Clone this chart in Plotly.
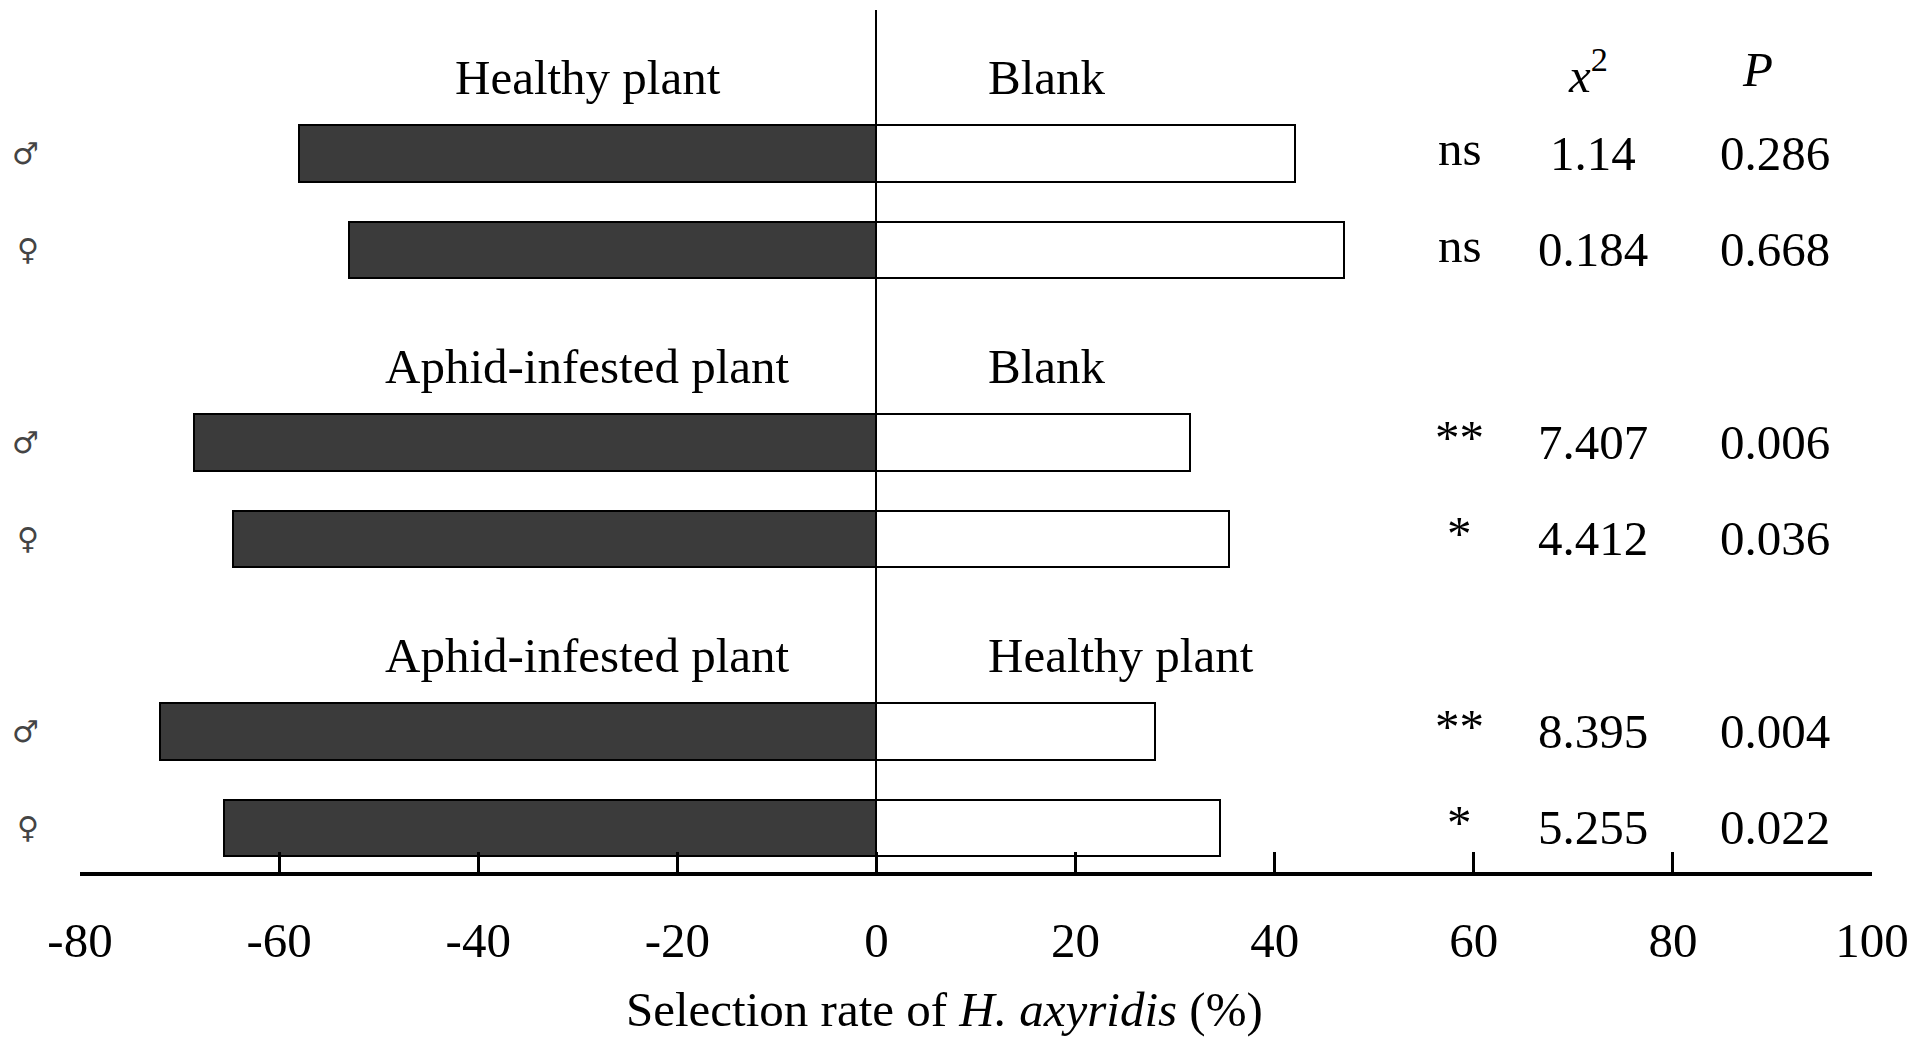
import plotly.graph_objects as go

# data
pairs = [("Healthy plant", "Blank"),
         ("Aphid-infested plant", "Blank"),
         ("Aphid-infested plant", "Healthy plant")]
sexes = ["♂", "♀", "♂", "♀", "♂", "♀"]
left_rate = [-58.0, -53.0, -68.5, -64.6, -72.0, -65.5]
right_rate = [42.0, 47.0, 31.5, 35.4, 28.0, 34.5]
signif = ["ns", "ns", "**", "*", "**", "*"]
chi2 = ["1.14", "0.184", "7.407", "4.412", "8.395", "5.255"]
p_vals = ["0.286", "0.668", "0.006", "0.036", "0.004", "0.022"]
xticks = [-80, -60, -40, -20, 0, 20, 40, 60, 80, 100]
xtick_text = ["-80", "-60", "-40", "-20", "0", "20", "40", "60", "80", "100"]

FONT = "Liberation Serif"
FS = 49

# row positions: two rows per pair, one empty slot between pairs for the header
ypos = [8 - 3 * (i // 2) - (i % 2) for i in range(len(sexes))]

fig = go.Figure()
fig.add_trace(go.Bar(y=ypos, x=left_rate, orientation="h", width=0.585,
                     marker=dict(color="#3b3b3b", line=dict(color="black", width=2)),
                     showlegend=False))
fig.add_trace(go.Bar(y=ypos, x=right_rate, orientation="h", width=0.585,
                     marker=dict(color="white", line=dict(color="black", width=2)),
                     showlegend=False))

ann = []
for g, (lname, rname) in enumerate(pairs):
    yh = ypos[2 * g] + 0.79
    ann.append(dict(x=-29, y=yh, text=lname, xanchor="center", showarrow=False))
    ann.append(dict(x=11, y=yh, text=rname, xanchor="left", showarrow=False))

for i, y in enumerate(ypos):
    ann.append(dict(x=58.6, y=y + 0.05, text=signif[i], xanchor="center", showarrow=False))
    ann.append(dict(x=72, y=y, text=chi2[i], xanchor="center", showarrow=False))
    ann.append(dict(x=90.3, y=y, text=p_vals[i], xanchor="center", showarrow=False))

ann.append(dict(x=71.5, y=ypos[0] + 0.85, text="<i>x</i><sup>2</sup>", xanchor="center", showarrow=False))
ann.append(dict(x=88.5, y=ypos[0] + 0.87, text="<i>P</i>", xanchor="center", showarrow=False))
ann.append(dict(x=6.8, y=-0.16, yref="paper", text="Selection rate of <i>H. axyridis</i> (%)",
                xanchor="center", yanchor="middle", showarrow=False))

# margins allow for the 8px page offset of the html body
fig.update_layout(
    width=1919, height=1047,
    margin=dict(l=72, r=55, t=2, b=183),
    plot_bgcolor="white", paper_bgcolor="white",
    font=dict(family=FONT, size=FS, color="black"),
    barmode="relative", bargap=0,
    annotations=ann,
    xaxis=dict(range=[-80, 100], tickvals=xticks, ticktext=xtick_text,
               showline=True, linecolor="black", linewidth=4,
               ticks="inside", ticklen=20, tickwidth=3, tickcolor="black",
               ticklabelstandoff=22, automargin=False,
               showgrid=False, zeroline=True, zerolinecolor="black", zerolinewidth=2),
    yaxis=dict(range=[0.54, 9.49], tickvals=ypos, ticktext=sexes,
               tickfont=dict(family="DejaVu Sans", size=30, color="#444"),
               ticklabelstandoff=40, automargin=False,
               showgrid=False, zeroline=False, showline=False, ticks=""),
)

fig.write_html("out.html")
